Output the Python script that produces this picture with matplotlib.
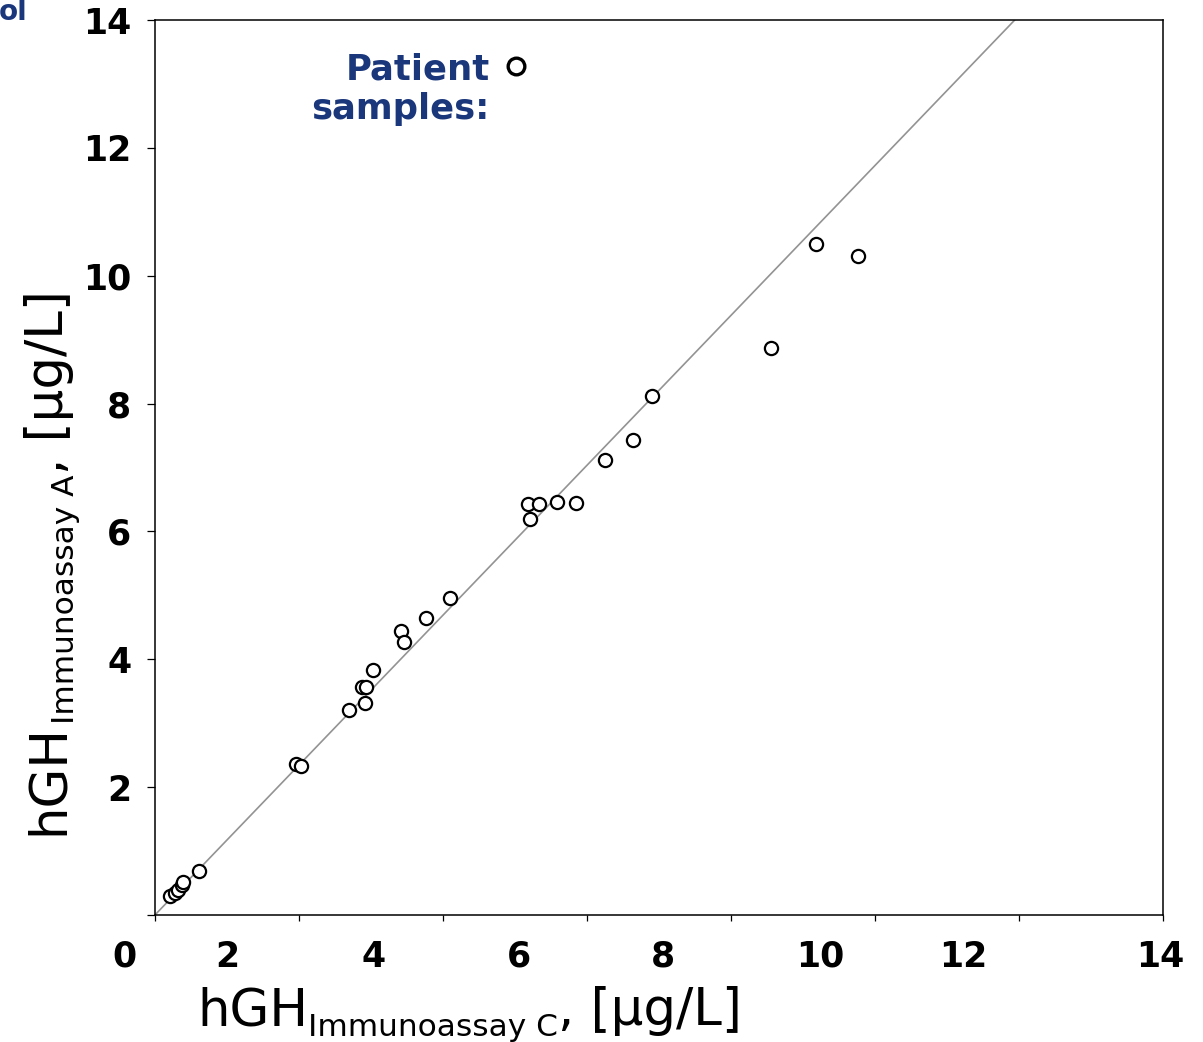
import numpy as np
import matplotlib
matplotlib.use("Agg")
import matplotlib.pyplot as plt

# patient samples, hGH in µg/L (x: immunoassay C, y: immunoassay A)
assay_c = [0.21, 0.28, 0.32, 0.37, 0.39, 0.61, 1.96, 2.03, 2.69, 2.92,
           2.88, 2.93, 3.03, 3.42, 3.46, 3.76, 4.10, 5.18, 5.33, 5.21,
           5.58, 5.85, 6.25, 6.64, 6.90, 8.56, 9.18, 9.76]
assay_a = [0.30, 0.34, 0.39, 0.47, 0.52, 0.69, 2.36, 2.33, 3.21, 3.32,
           3.57, 3.57, 3.83, 4.44, 4.27, 4.65, 4.96, 6.43, 6.43, 6.19,
           6.46, 6.45, 7.12, 7.43, 8.12, 8.87, 10.50, 10.31]

# reference line through the origin
fit_slope = 1.1725

x_ticks = [0, 2, 4, 6, 8, 10, 12, 14]
x_tick_labels = ["0", "2", "4", "6", "8", "10", "12", "14"]
# the labels in the original sit off the tick marks
x_label_pos = [-0.42, 1.01, 3.03, 5.06, 7.06, 9.24, 11.22, 13.96]
y_ticks = [0, 2, 4, 6, 8, 10, 12, 14]
y_tick_labels = ["", "2", "4", "6", "8", "10", "12", "14"]

NAVY = "#1A377C"

fig = plt.figure(figsize=(12.03, 10.42), dpi=100)
ax = fig.add_axes([0.1288, 0.1219, 0.8380, 0.8589])

xs = np.array([0.0, 14.0])
ax.plot(xs, fit_slope * xs, color="#939393", lw=1.2, zorder=1)
ax.plot(assay_c, assay_a, "o", ms=9.5, mfc="white", mec="black", mew=1.6, zorder=3)

for s in ax.spines.values():
    s.set_linewidth(1.1)

ax.set_xlim(0, 14)
ax.set_ylim(0, 14)
ax.set_xticks(x_ticks, [""] * len(x_ticks))
ax.tick_params(axis="x", direction="out", length=4.5, width=0.9)
ax.set_yticks(y_ticks, y_tick_labels)
ax.tick_params(axis="y", direction="out", length=6, width=0.9, pad=11, labelsize=25)
for lab in ax.get_yticklabels():
    lab.set_fontweight("bold")

# x tick labels, placed like in the original (shifted from the marks)
for pos, lab in zip(x_label_pos, x_tick_labels):
    ax.annotate(lab, xy=(pos, 0), xycoords=ax.get_xaxis_transform(),
                xytext=(0, -18), textcoords="offset points", ha="center", va="top",
                fontsize=25, fontweight="bold", annotation_clip=False)

# legend-like note
ax.plot([0.358], [0.9486], "o", transform=ax.transAxes, ms=12, mfc="white",
        mec="black", mew=2.4, clip_on=False, zorder=4)
ax.text(0.3323, 0.9224, "Patient\nsamples:", transform=ax.transAxes, ha="right",
        va="center", multialignment="right", fontsize=25.5, fontweight="bold",
        color=NAVY, linespacing=1.2)

fig.text(-1 / 1203, 1 - 20 / 1042, "ol", fontsize=20, fontweight="bold", color=NAVY,
         ha="left", va="baseline")


def chained_label(pieces, x, y, vertical=False):
    """Draw text pieces one after another (main text + subscript)."""
    prev = None
    for text, size, shift in pieces:
        kw = dict(fontsize=size, ha="left", va="baseline")
        if vertical:
            kw.update(rotation=90, rotation_mode="anchor")
        if prev is None:
            prev = fig.text(x, y, text, **kw)
            continue
        if vertical:
            xy, coords, off = (x, 1), ("figure fraction", prev), (shift, 0)
        else:
            xy, coords, off = (1, y), (prev, "figure fraction"), (0, -shift)
        prev = ax.annotate(text, xy=xy, xycoords=coords, xytext=off,
                           textcoords="offset points", annotation_clip=False, **kw)


chained_label([("hGH", 37, 0), ("Immunoassay C", 22.5, 8), (", [µg/L]", 37, 0)],
              0.1638, 1 - 1025 / 1042)
chained_label([("hGH", 37, 0), ("Immunoassay A", 22.5, 8), (", [µg/L]", 37, 0)],
              63 / 1203, 1 - 835 / 1042, vertical=True)

fig.savefig("out.png", dpi=100)
